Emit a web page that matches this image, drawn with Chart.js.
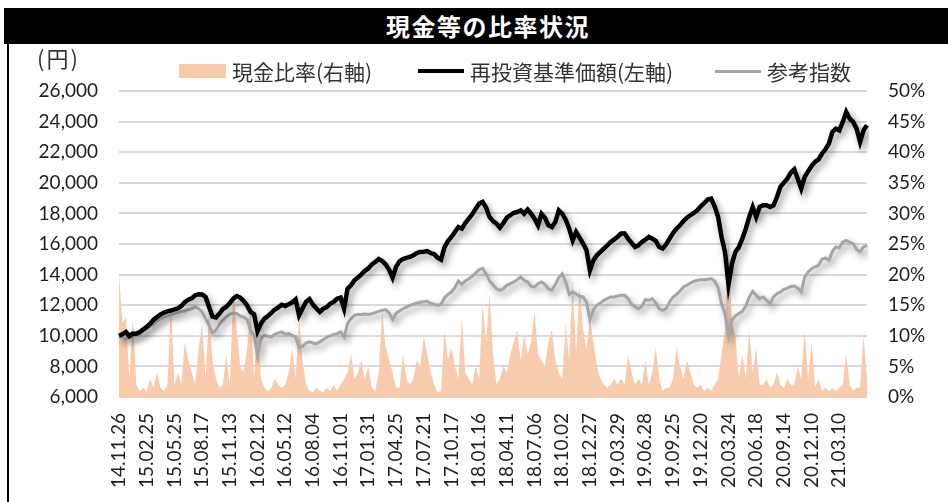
<!DOCTYPE html>
<html>
<head>
<meta charset="utf-8">
<script src="https://cdn.jsdelivr.net/npm/chart.js@4.4.1/dist/chart.umd.min.js"></script>
<style>
  html, body { margin:0; padding:0; background:#fff; }
  body { width:948px; height:502px; overflow:hidden; position:relative; font-family:'Noto Sans CJK JP', sans-serif; }
  #bar { position:absolute; left:4px; top:8px; width:944px; height:36px; background:#000; }
  #title { position:absolute; left:0; top:8px; width:976px; height:36px; line-height:36px; text-align:center; color:#fff; font-weight:bold; font-size:24px; letter-spacing:1.5px; }
  #frame { position:absolute; left:7px; top:43px; width:2px; height:459px; background:#000; }
  #c { position:absolute; left:0; top:0; }
  .lg { position:absolute; font-size:21px; color:#333; line-height:24px; white-space:nowrap; }
  .mk { position:absolute; }
</style>
</head>
<body>
<div id="bar"></div>
<div id="title">現金等の比率状況</div>
<div id="frame"></div>
<canvas id="c" width="948" height="502"></canvas>
<div class="lg" id="unit" style="left:37px; top:45px; font-size:22px; letter-spacing:2px;">(円)</div>
<div class="mk" style="left:179px; top:64px; width:47px; height:14px; background:#f8cbad;"></div>
<div class="lg" style="left:232px; top:59px;">現金比率(右軸)</div>
<div class="mk" style="left:418px; top:69px; width:46px; height:4px; background:#000;"></div>
<div class="lg" style="left:470px; top:59px;">再投資基準価額(左軸)</div>
<div class="mk" style="left:715px; top:70px; width:46px; height:3px; background:#a5a5a5;"></div>
<div class="lg" style="left:767px; top:59px;">参考指数</div>
<script>
const tickLabels = ['14.11.26','15.02.25','15.05.25','15.08.17','15.11.13','16.02.12','16.05.12','16.08.04','16.11.01','17.01.31','17.04.25','17.07.21','17.10.17','18.01.16','18.04.11','18.07.06','18.10.02','18.12.27','19.03.29','19.06.28','19.09.25','19.12.20','20.03.24','20.06.18','20.09.14','20.12.10','21.03.10'];

const navValues = [
10000,10100,10250,9980,10150,10140,10250,10420,10580,10790,11050,11230,11400,11520,11600,11650,
11720,11800,11950,12200,12360,12450,12650,12720,12700,12540,11900,11250,11200,11450,11750,11900,
12140,12430,12600,12500,12280,11990,11560,11400,10300,10800,11120,11300,11500,11720,11860,12030,
11950,12060,12180,12380,11340,11780,12210,12400,12040,11780,11560,11780,11880,12100,12210,12430,
12500,11780,13080,13300,13630,13800,14020,14250,14400,14670,14820,15020,14890,14670,14320,13800,
14500,14870,15020,15090,15150,15260,15410,15480,15500,15540,15410,15330,15110,14980,15800,16200,
16460,16790,17110,17000,17370,17660,17940,18310,18640,18750,18380,17770,17500,17330,17070,17370,
17720,17880,18030,18090,18200,17980,18250,17980,17660,17220,17980,17720,17220,17110,17440,18200,
17980,17590,17000,16240,16790,16420,16030,15590,14280,14930,15260,15480,15700,15910,16130,16300,
16480,16680,16680,16350,16070,15800,15910,16130,16280,16460,16350,16200,15800,15700,15980,16350,
16720,17000,17220,17500,17720,17880,18030,18200,18460,18680,18900,18960,18460,17770,16460,15480,
13350,14720,15480,15800,16350,17000,17770,18420,17770,18420,18530,18530,18420,18530,19070,19730,
20010,20270,20660,20880,20270,19620,20380,20750,21100,21360,21530,21900,22190,22560,23320,23540,
23430,23980,24630,24190,23980,23540,22670,23430,23760
];

const indexValues = [
9950,9880,9810,9880,9970,10030,10140,10310,10470,10620,10750,10970,11120,11230,11300,11380,
11450,11540,11600,11620,11710,11770,11880,11770,11560,11120,10690,10180,10360,10750,11010,11230,
11400,11490,11450,11300,11230,11060,10360,10030,8720,9810,10030,9970,9920,10100,10180,10250,
10100,10140,10030,9920,9230,9310,9530,9600,9530,9490,9600,9750,9920,9990,10080,10140,
10250,9920,10790,11120,11340,11400,11400,11420,11400,11450,11510,11600,11660,11710,11490,11060,
11450,11620,11770,11880,11990,12060,12140,12190,12230,12250,12140,12060,11990,12060,12490,12710,
12860,13150,13580,13360,13580,13730,13890,14110,14320,14410,14060,13580,13330,13080,12970,13080,
13300,13410,13520,13670,13840,13630,13520,13230,13190,13410,13520,13360,13080,12970,13360,13800,
14060,13520,12710,12860,12750,12580,12540,12210,11060,11710,11990,12140,12320,12430,12540,12540,
12610,12650,12650,12430,12060,11880,11770,11930,12360,12320,12430,12140,11770,11660,11770,12210,
12540,12710,12930,13190,13300,13450,13560,13630,13670,13670,13690,13740,13580,13150,12100,11450,
10000,11010,11300,11450,11600,11950,12540,12910,12650,12430,12540,12320,12100,12540,12750,12860,
13040,13120,13230,13250,13120,12860,13840,14170,14390,14500,14610,15000,15090,14930,15520,15810,
15740,16130,16240,16130,16020,15650,15480,15810,15910
];

const cashRatio = [
20,12,13,3,13,2,1,1.5,1,3,1.5,4,1.5,1,2,15,
2,4,2,9,6,4,2,8,12,3,14,6,3,1.5,2,7,
1.5,18,11,5,4,8,15,3,12,3,1.5,1,1.5,3,2,1.5,
2,4,8,3,13,6,2,1,0.8,1.5,1,0.8,1.5,1,2,1,
2,3,4,7,3,4,6,3,5,1.5,1,4,14,8,6,4,
1.5,1.5,7,3,2,3,6,5,10,7,4,2,0.8,1,11,6,
8,5,3,13,4,3,2,5,3,15,9,17,7,2,3,5,
4,7,9,11,6,10,7,9,14,7,6,5,9,11,6,4,
3,12,6,19,7,18,11,8,13,9,5,3,2,1.5,2,3,
2,3,2,7,4,2,3,2,6,2,4,8,3,1,1.5,1.5,
3,8,5,3,6,4,2,1.5,2,1,1.5,1,2,3,7,11,
26,12,10,3,7,3,11,4,8,2,2,3,1.5,2,4,2,
1.5,3,2,2,5,3,11,3,9,1.5,3,1,1.5,1,1.5,1,
1.5,2,7,2,1,1.5,1.5,10,3
];

const STEP = 8;
const categories = navValues.map((_, i) => (i % STEP === 0 && tickLabels[i / STEP]) ? tickLabels[i / STEP] : '');

const shadowPlugin = {
  id: 'lineShadow',
  beforeDatasetDraw(chart, args) {
    const ds = chart.data.datasets[args.index];
    if (!ds.shadow) return;
    const ctx = chart.ctx;
    ctx.save();
    ctx.shadowColor = 'rgba(0,0,0,0.42)';
    ctx.shadowBlur = 7;
    ctx.shadowOffsetX = 3;
    ctx.shadowOffsetY = 4;
  },
  afterDatasetDraw(chart, args) {
    const ds = chart.data.datasets[args.index];
    if (!ds.shadow) return;
    chart.ctx.restore();
  }
};

const tickFont = { family: 'Lato', size: 19 };
const tickColor = '#1e1e1e';

new Chart(document.getElementById('c'), {
  type: 'line',
  data: {
    labels: categories,
    datasets: [
      {
        label: '現金比率(右軸)',
        data: cashRatio,
        yAxisID: 'y1',
        fill: 'origin',
        backgroundColor: '#f8cbad',
        borderWidth: 0,
        borderColor: 'rgba(0,0,0,0)',
        pointRadius: 0,
        tension: 0,
        order: 3
      },
      {
        label: '再投資基準価額(左軸)',
        data: navValues,
        yAxisID: 'y',
        borderColor: '#000000',
        borderWidth: 4.5,
        pointRadius: 0,
        tension: 0,
        fill: false,
        shadow: true,
        order: 1
      },
      {
        label: '参考指数',
        data: indexValues,
        yAxisID: 'y',
        borderColor: '#a5a5a5',
        borderWidth: 3,
        pointRadius: 0,
        tension: 0,
        fill: false,
        shadow: true,
        order: 2
      }
    ]
  },
  options: {
    responsive: false,
    animation: false,
    devicePixelRatio: 1,
    layout: { padding: { top: 91, left: 0, right: 0, bottom: 0 } },
    plugins: { legend: { display: false }, title: { display: false }, tooltip: { enabled: false } },
    scales: {
      x: {
        grid: { display: false, drawTicks: false },
        border: { display: false },
        ticks: {
          autoSkip: false, maxRotation: 90, minRotation: 90, padding: 16,
          font: tickFont, color: tickColor
        },
        afterFit(scale) { scale.height = 105; }
      },
      y: {
        position: 'left',
        min: 6000, max: 26000,
        grid: { color: '#d9d9d9', lineWidth: 2, drawTicks: false },
        border: { display: false },
        ticks: {
          stepSize: 2000, padding: 21, font: tickFont, color: tickColor,
          callback: v => v.toLocaleString('en-US')
        },
        afterFit(scale) { scale.width = 119; }
      },
      y1: {
        position: 'right',
        min: 0, max: 50,
        grid: { display: false, drawTicks: false },
        border: { display: false },
        ticks: {
          stepSize: 5, padding: 21, font: tickFont, color: tickColor,
          callback: v => v + '%'
        },
        afterFit(scale) { scale.width = 81; }
      }
    }
  },
  plugins: [shadowPlugin]
});
</script>
</body>
</html>
